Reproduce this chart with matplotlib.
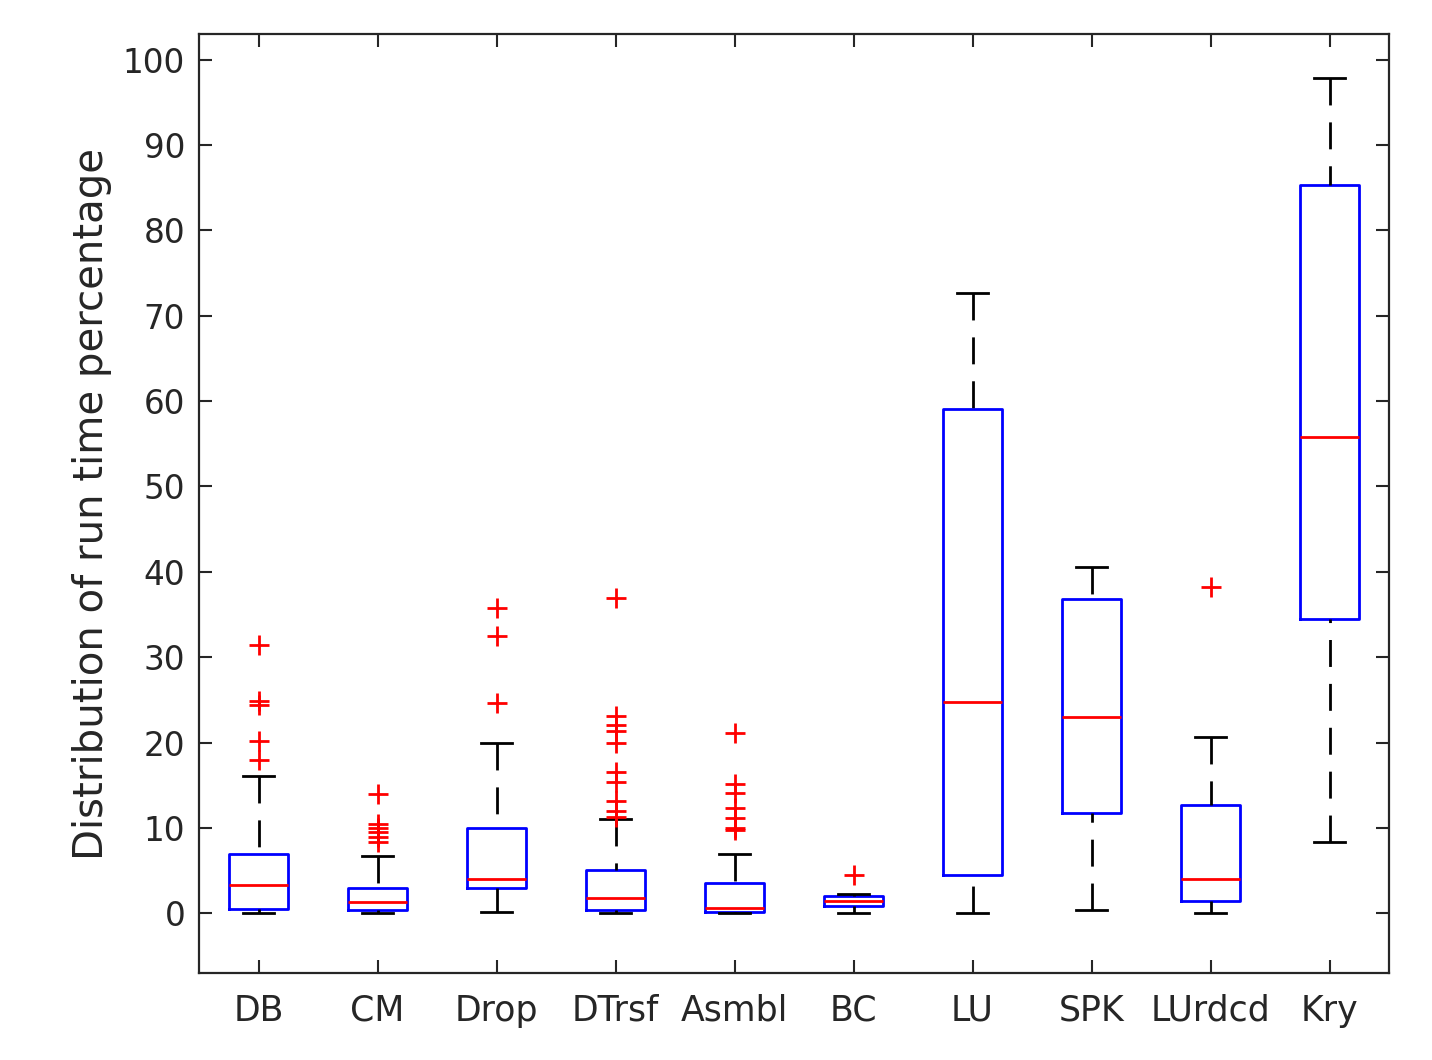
import numpy as np
import matplotlib
matplotlib.use('Agg')
import matplotlib.pyplot as plt

# ── Data ────────────────────────────────────────────────────────────
labels = ['DB', 'CM', 'Drop', 'DTrsf', 'Asmbl', 'BC', 'LU', 'SPK', 'LUrdcd', 'Kry']
med = [3.35, 1.3, 4.0, 1.75, 0.6, 1.4, 24.7, 23.0, 4.0, 55.8]
q1 = [0.55, 0.4, 3.0, 0.4, 0.1, 0.8, 4.5, 11.8, 1.4, 34.5]
q3 = [6.9, 3.0, 10.0, 5.1, 3.5, 2.0, 59.1, 36.8, 12.7, 85.3]
wlo = [0.04, 0.0, 0.2, 0.0, 0.0, 0.0, 0.0, 0.4, 0.0, 8.3]
whi = [16.1, 6.7, 19.9, 11.1, 6.9, 2.3, 72.7, 40.6, 20.6, 97.8]
fliers = [
    [31.4, 24.9, 24.4, 20.2, 18.0],
    [14.0, 10.5, 10.0, 9.5, 8.9, 8.3],
    [35.8, 32.5, 24.6],
    [36.9, 23.1, 22.0, 21.3, 19.9, 16.6, 15.4, 13.1, 12.0, 11.3],
    [21.1, 15.2, 14.1, 12.3, 11.2, 10.0, 9.8],
    [4.5],
    [],
    [],
    [38.2],
    [],
]

stats = []
for i in range(len(labels)):
    stats.append(dict(med=med[i], q1=q1[i], q3=q3[i], whislo=wlo[i],
                      whishi=whi[i], fliers=np.array(fliers[i]), label=labels[i]))

TXT = '#262626'
plt.rcParams['font.family'] = 'DejaVu Sans'

fig = plt.figure(figsize=(14.32, 10.6), dpi=100)
ax = fig.add_axes([0.139, 0.082, 0.831, 0.886])

bp = ax.bxp(stats, widths=0.5, capwidths=0.26, patch_artist=False,
            boxprops=dict(color='blue', linewidth=2.0),
            medianprops=dict(color='red', linewidth=2.0),
            whiskerprops=dict(color='black', linewidth=2.0, linestyle=(0, (9.7, 6.1))),
            capprops=dict(color='black', linewidth=2.0),
            flierprops=dict(marker='+', markersize=14, markeredgewidth=2.0,
                            markeredgecolor='red', linestyle='none'))

# start dashes from the cap end, like MATLAB
for w in bp['whiskers']:
    x, y = w.get_data()
    w.set_data(x[::-1], y[::-1])

ax.set_xlim(0.5, 10.5)
ax.set_ylim(-7, 103)
ax.set_yticks(np.arange(0, 101, 10))
ax.set_xticks(np.arange(1, len(labels) + 1))
ax.set_xticklabels(labels)

ax.set_ylabel('Distribution of run time percentage', fontsize=29, color=TXT, labelpad=8)
ax.tick_params(direction='in', length=9.5, width=1.5, labelsize=23.5,
               colors=TXT, top=True, right=True, pad=10)
ax.tick_params(axis='x', labelsize=25, pad=15)
for s in ax.spines.values():
    s.set_linewidth(1.6)
    s.set_color(TXT)

fig.savefig('out.png', dpi=100)
